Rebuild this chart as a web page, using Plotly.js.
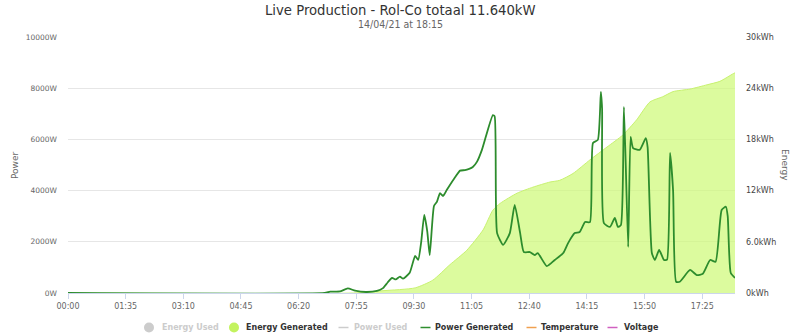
<!DOCTYPE html>
<html>
<head>
<meta charset="utf-8">
<script src="https://cdn.plot.ly/plotly-3.0.1.min.js"></script>
<style>html,body{margin:0;padding:0;background:#fff;}#chart{width:800px;height:336px;}</style>
</head>
<body>
<div id="chart"></div>
<script>
const DAY = '2021-04-14 ';
const chartTitle = 'Live Production - Rol-Co totaal 11.640kW';
const chartSubtitle = '14/04/21 at 18:15';

const powerTimes = ['00:00','07:03','07:12','07:28','07:41','07:53','08:11','08:29','08:39','08:47',
  '08:54','09:00','09:07','09:12','09:23','09:32','09:37','09:42','09:47','09:52',
  '09:56','10:03','10:08','10:13','10:18','10:24','10:38','10:46','10:54','11:01',
  '11:07','11:14','11:22','11:40','11:43','11:47','11:57','12:08','12:16','12:25',
  '12:31','12:41','12:49','12:54','13:09','13:22','13:36','13:44','13:55','14:03',
  '14:12','14:20','14:25','14:33','14:38','14:40','14:43','14:53','15:01','15:06',
  '15:11','15:16','15:23','15:27','15:31','15:42','15:52','15:55','16:02','16:07',
  '16:14','16:22','16:27','16:32','16:37','16:42','16:48','17:05','17:16','17:26',
  '17:38','17:47','17:57','18:04','18:07','18:12','18:19'];
const powerGenerated = [0,0,50,60,180,90,40,80,190,420,
  590,530,640,560,790,1450,1290,2000,3050,2400,
  1480,3400,3570,3900,3790,4020,4530,4780,4800,4850,
  4920,5130,5590,6950,6900,2340,1880,2340,3440,2340,
  1600,1600,1480,1560,1050,1290,1560,1950,2340,2380,
  2770,2770,5860,5980,7860,7200,2730,2580,2930,2580,
  2650,7270,1800,6100,5660,5590,6050,5700,1560,1290,
  1680,1290,1300,5470,4000,440,440,900,700,750,
  1290,1220,3240,3370,3000,780,590];

const energyTimes = ['00:00','07:50','08:39','09:32','10:01','10:29','10:57','11:24','11:40','11:52',
  '12:20','12:46','13:14','13:30','13:52','14:20','14:48','15:14','15:37','15:59',
  '16:20','16:37','17:05','17:33','17:54','18:16','18:19'];
const energyGenerated = [0,0,0.27,0.6,1.5,3.3,5.0,7.4,9.7,10.5,
  11.7,12.4,13.0,13.2,14.0,15.6,17.1,18.5,20.3,22.4,
  23.0,23.6,23.9,24.4,24.8,25.7,25.8];

const powerTickVals = [0,2000,4000,6000,8000,10000];
const powerTickText = ['0W','2000W','4000W','6000W','8000W','10000W'];
const energyTickVals = [0,6,12,18,24,30];
const energyTickText = ['0kWh','6.0kWh','12kWh','18kWh','24kWh','30kWh'];
const xTickVals = ['00:00','01:35','03:10','04:45','06:20','07:55','09:30','11:05','12:40','14:15','15:50','17:25'];

const legendNames = ['Energy Used','Energy Generated','Power Used','Power Generated','Temperature','Voltage'];
const legendSymbols = ['circle','circle','line','line','line','line'];
const legendSymbolColors = ['#cccccc','#c3f35f','#cccccc','#2f8f2f','#f0a050','#d060c0'];
const legendTextColors = ['#cccccc','#333333','#cccccc','#333333','#333333','#333333'];
const legendSymbolX = [149,234,343.5,425.5,531.5,612.5];
const legendTextX = [160,244,352,433,539,622];

const FONT = 'DejaVu Sans, Verdana, sans-serif';
const TFONT = 'DejaVu Sans Condensed, Liberation Sans Narrow, Roboto, sans-serif';
const L = 68, R = 735, T = 37, B = 293;
const PW = R - L, PH = B - T;
const px2x = p => (p - L) / PW;
const px2y = p => (B - p) / PH;

const traces = [
  {
    x: energyTimes.map(t => DAY + t), y: energyGenerated,
    type: 'scatter', mode: 'lines', name: 'Energy Generated',
    line: {color: '#c8f270', width: 1, shape: 'spline', smoothing: 0.6},
    fill: 'tozeroy', fillcolor: 'rgba(206,250,120,0.72)',
    yaxis: 'y', showlegend: false, hoverinfo: 'skip'
  },
  {
    x: powerTimes.map(t => DAY + t), y: powerGenerated,
    type: 'scatter', mode: 'lines', name: 'Power Generated',
    line: {color: '#2d8c2d', width: 1.8, shape: 'spline', smoothing: 0.5},
    yaxis: 'y2', showlegend: false, hoverinfo: 'skip'
  }
];

const annotations = [];
const shapes = [];
const legY = px2y(327.5);
legendNames.forEach((n, i) => {
  annotations.push({
    xref: 'paper', yref: 'paper', x: px2x(legendTextX[i]), y: legY,
    xanchor: 'left', yanchor: 'middle', showarrow: false,
    text: '<b>' + n + '</b>', font: {family: FONT, size: 8, color: legendTextColors[i]}
  });
  if (legendSymbols[i] === 'circle') {
    shapes.push({type: 'circle', xref: 'paper', yref: 'paper',
      x0: px2x(legendSymbolX[i] - 5), x1: px2x(legendSymbolX[i] + 5),
      y0: px2y(327.5 + 5), y1: px2y(327.5 - 5),
      fillcolor: legendSymbolColors[i], line: {width: 0}});
  } else {
    shapes.push({type: 'line', xref: 'paper', yref: 'paper',
      x0: px2x(legendSymbolX[i] - 5), x1: px2x(legendSymbolX[i] + 5),
      y0: legY, y1: legY, line: {color: legendSymbolColors[i], width: 1.5}});
  }
});
annotations.push({
  xref: 'paper', yref: 'paper', x: px2x(400), y: px2y(9), xanchor: 'center', yanchor: 'middle',
  showarrow: false, text: chartTitle,
  font: {family: TFONT, size: 14.7, color: '#333333'}
});
annotations.push({
  xref: 'paper', yref: 'paper', x: px2x(400), y: px2y(24), xanchor: 'center', yanchor: 'middle',
  showarrow: false, text: chartSubtitle,
  font: {family: TFONT, size: 10.5, color: '#666666'}
});
annotations.push({
  xref: 'paper', yref: 'paper', x: px2x(15), y: 0.5, xanchor: 'center', yanchor: 'middle',
  showarrow: false, text: 'Power', textangle: -90, font: {family: FONT, size: 9, color: '#666666'}
});
annotations.push({
  xref: 'paper', yref: 'paper', x: px2x(785), y: 0.5, xanchor: 'center', yanchor: 'middle',
  showarrow: false, text: 'Energy', textangle: 90, font: {family: FONT, size: 9, color: '#666666'}
});

const layout = {
  width: 800, height: 336,
  margin: {l: L, r: 800 - R, t: T, b: 336 - B, pad: 0},
  paper_bgcolor: '#ffffff', plot_bgcolor: '#ffffff',
  showlegend: false,
  xaxis: {
    type: 'date',
    range: [DAY + '00:00', DAY + '18:19'],
    tickvals: xTickVals.map(t => DAY + t), ticktext: xTickVals,
    ticks: 'outside', ticklen: 5, tickcolor: '#ccd6eb', tickwidth: 1,
    showline: true, linecolor: '#ccd6eb', linewidth: 1,
    showgrid: false, zeroline: false,
    tickfont: {family: FONT, size: 8, color: '#666666'}
  },
  yaxis: {
    side: 'right', range: [0, 30],
    tickvals: energyTickVals, ticktext: energyTickText,
    showgrid: true, gridcolor: '#e6e6e6', gridwidth: 1, zeroline: false,
    ticks: '', ticklabelstandoff: 10,
    tickfont: {family: FONT, size: 8, color: '#444444'}
  },
  yaxis2: {
    overlaying: 'y', side: 'left', range: [0, 10000],
    tickvals: powerTickVals, ticktext: powerTickText,
    showgrid: false, zeroline: false, ticks: '', ticklabelstandoff: 10,
    tickfont: {family: FONT, size: 7.5, color: '#666666'}
  },
  annotations: annotations,
  shapes: shapes
};

Plotly.newPlot('chart', traces, layout, {staticPlot: true, displayModeBar: false});
</script>
</body>
</html>
